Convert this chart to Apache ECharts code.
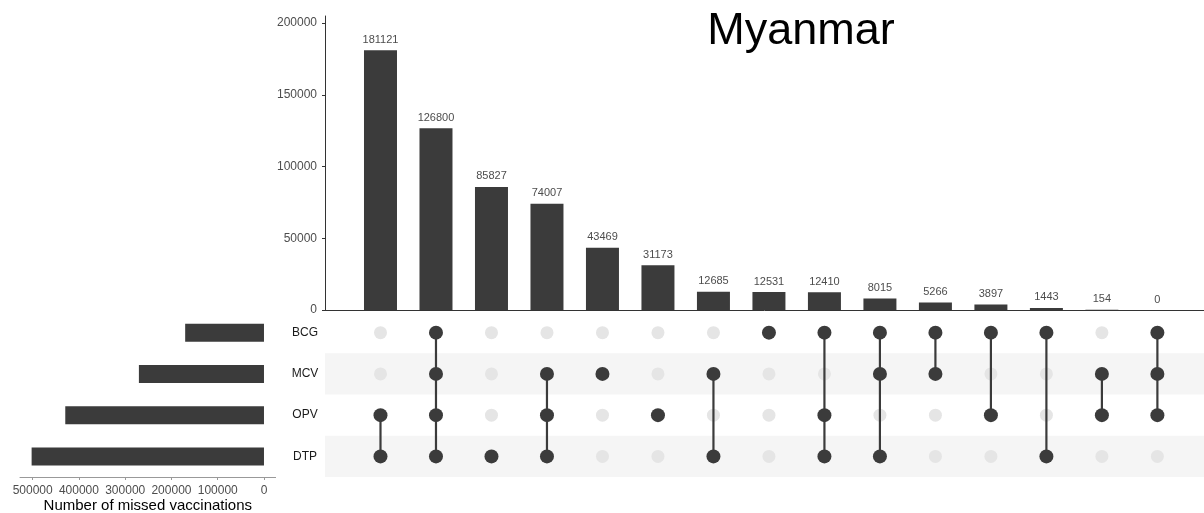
<!DOCTYPE html>
<html>
<head>
<meta charset="utf-8">
<script src="https://cdn.jsdelivr.net/npm/echarts@6/dist/echarts.min.js"></script>
<style>
  html, body { margin: 0; padding: 0; background: #fff; }
  #chart { width: 1204px; height: 513px; }
</style>
</head>
<body>
<div id="chart"></div>
<script>
const FONT = '"Liberation Sans", Arial, sans-serif';
const DARK = '#3b3b3b';

// sets, top row first
const sets = ['BCG', 'MCV', 'OPV', 'DTP'];
const setSizes = [170362, 270396, 429562, 502308];

// intersections, in plotted order
const counts = [181121, 126800, 85827, 74007, 43469, 31173, 12685, 12531, 12410, 8015, 5266, 3897, 1443, 154, 0];
const members = [
  ['OPV', 'DTP'],
  ['BCG', 'MCV', 'OPV', 'DTP'],
  ['DTP'],
  ['MCV', 'OPV', 'DTP'],
  ['MCV'],
  ['OPV'],
  ['MCV', 'DTP'],
  ['BCG'],
  ['BCG', 'OPV', 'DTP'],
  ['BCG', 'MCV', 'DTP'],
  ['BCG', 'MCV'],
  ['BCG', 'OPV'],
  ['BCG', 'DTP'],
  ['MCV', 'OPV'],
  ['BCG', 'MCV', 'OPV']
];

const countTicks = [0, 50000, 100000, 150000, 200000];
const sizeTicks = [0, 100000, 200000, 300000, 400000, 500000];

// matrix cells
const onDots = [], offDots = [], links = [];
members.forEach((m, i) => {
  const rows = m.map((s) => sets.indexOf(s));
  sets.forEach((s, r) => (rows.includes(r) ? onDots : offDots).push([i, r]));
  if (rows.length > 1) links.push([i, Math.min(...rows), Math.max(...rows)]);
});

const plain = (v) => String(v); // no thousands separators
const lbl = { color: '#4d4d4d', fontSize: 12, fontFamily: FONT, formatter: plain };

const chart = echarts.init(document.getElementById('chart'), null, { renderer: 'canvas' });
chart.setOption({
  animation: false,
  backgroundColor: '#fff',
  title: {
    text: 'Myanmar', left: 796, top: 4, textAlign: 'center',
    textStyle: { fontSize: 45, fontWeight: 'normal', color: '#000', fontFamily: FONT }
  },
  // fixed panels, v6 must not shrink them to fit labels
  grid: [
    { left: 325, right: 0, top: 16, height: 294, outerBoundsMode: 'none' },
    { left: 325, right: 0, top: 312, height: 165, outerBoundsMode: 'none' },
    { left: 20, width: 255.6, top: 312, height: 165, outerBoundsMode: 'none' }
  ],
  xAxis: [
    {
      gridIndex: 0, type: 'value', min: -1, max: 14.84,
      axisLine: { show: true, onZero: false, lineStyle: { color: '#333', width: 1 } },
      axisTick: { show: false }, axisLabel: { show: false }, splitLine: { show: false }
    },
    { gridIndex: 1, type: 'value', min: -1, max: 14.84, show: false },
    {
      gridIndex: 2, type: 'value', inverse: true, min: -25115, max: 527423,
      axisLine: { show: true, onZero: false, lineStyle: { color: '#999', width: 1 } },
      axisTick: { show: true, inside: false, length: 3, customValues: sizeTicks, lineStyle: { color: '#999' } },
      axisLabel: Object.assign({ customValues: sizeTicks, margin: 8 }, lbl),
      splitLine: { show: false },
      name: 'Number of missed vaccinations', nameLocation: 'middle', nameGap: 21,
      nameTextStyle: { fontSize: 15, color: '#000', fontFamily: FONT }
    }
  ],
  yAxis: [
    {
      gridIndex: 0, type: 'value', min: 0, max: 205000,
      axisLine: { show: true, onZero: false, lineStyle: { color: '#333', width: 1 } },
      axisTick: { show: true, inside: false, length: 3, customValues: countTicks, lineStyle: { color: '#333' } },
      axisLabel: Object.assign({ customValues: countTicks, margin: 8 }, lbl),
      splitLine: { show: false }
    },
    {
      gridIndex: 1, type: 'value', min: -0.5, max: 3.5, inverse: true,
      axisLine: { show: false, onZero: false }, axisTick: { show: false }, splitLine: { show: false },
      axisLabel: {
        customValues: [0, 1, 2, 3], formatter: (v) => sets[v] || '',
        align: 'center', margin: 20, color: '#1a1a1a', fontSize: 12, fontFamily: FONT
      }
    },
    { gridIndex: 2, type: 'category', data: sets, inverse: true, show: false }
  ],
  series: [
    {
      type: 'bar', xAxisIndex: 0, yAxisIndex: 0, barWidth: 33,
      data: counts.map((v, i) => [i, v]),
      itemStyle: { color: DARK },
      label: {
        show: true, position: 'top', distance: 5,
        formatter: (p) => String(p.value[1]), color: '#4d4d4d', fontSize: 11, fontFamily: FONT
      }
    },
    {
      type: 'scatter', xAxisIndex: 1, yAxisIndex: 1, symbolSize: 13, z: 2,
      data: offDots, itemStyle: { color: '#e5e5e5', opacity: 1 },
      markArea: {
        silent: true, itemStyle: { color: '#f5f5f5' },
        data: [[{ yAxis: 0.5 }, { yAxis: 1.5 }], [{ yAxis: 2.5 }, { yAxis: 3.5 }]]
      }
    },
    {
      type: 'custom', xAxisIndex: 1, yAxisIndex: 1, z: 3,
      data: links, encode: { x: 0, y: [1, 2] },
      renderItem: (params, api) => {
        const a = api.coord([api.value(0), api.value(1)]);
        const b = api.coord([api.value(0), api.value(2)]);
        return {
          type: 'line',
          shape: { x1: a[0], y1: a[1], x2: b[0], y2: b[1] },
          style: { stroke: DARK, lineWidth: 2.2 }
        };
      }
    },
    {
      type: 'scatter', xAxisIndex: 1, yAxisIndex: 1, symbolSize: 14, z: 4,
      data: onDots, itemStyle: { color: DARK, opacity: 1 }
    },
    {
      type: 'bar', xAxisIndex: 2, yAxisIndex: 2, barWidth: 18,
      data: setSizes, itemStyle: { color: DARK }
    }
  ]
});
</script>
</body>
</html>
